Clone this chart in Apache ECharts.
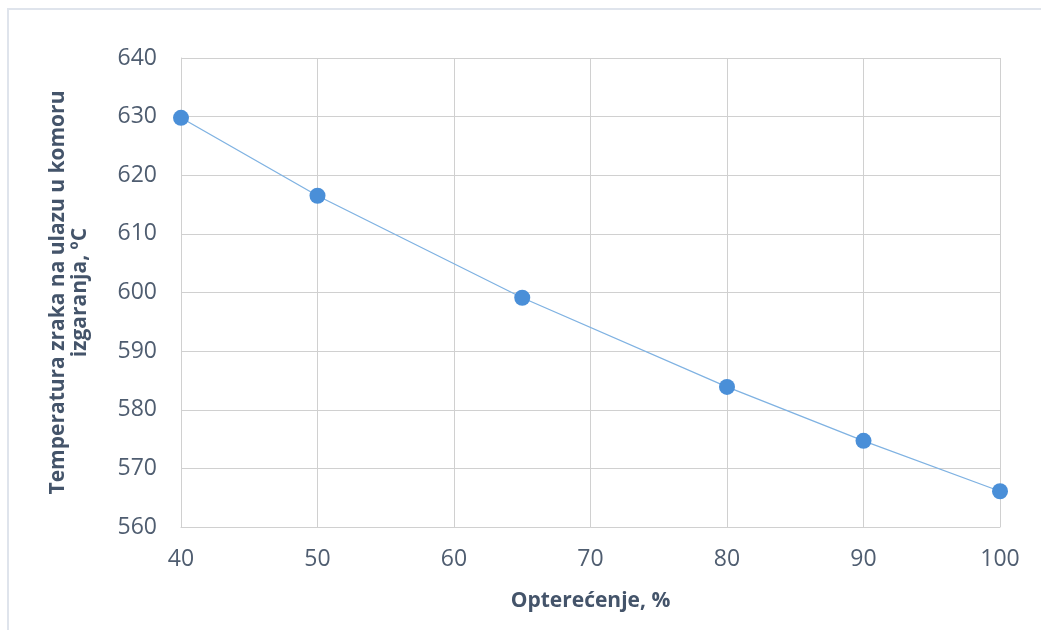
<!DOCTYPE html>
<html><head><meta charset="utf-8">
<script src="https://cdn.jsdelivr.net/npm/echarts@6/dist/echarts.min.js"></script>
<style>
html,body{margin:0;padding:0;background:#fff;}
#frame{position:absolute;left:7px;top:8px;width:1034px;height:622px;border-top:2px solid #dfe4ec;border-left:2px solid #dfe4ec;box-sizing:border-box;}
#chart{position:absolute;left:0;top:0;width:1041px;height:630px;}
</style></head>
<body>
<div id="frame"></div>
<div id="chart"></div>
<script>
const loads = [40, 50, 65, 80, 90, 100];
const temps = [629.8, 616.5, 599.1, 583.9, 574.7, 566.1];
const xTicks = [40, 50, 60, 70, 80, 90, 100];
const yTicks = [560, 570, 580, 590, 600, 610, 620, 630, 640];
const xTitle = 'Opterećenje, %';
const yTitle = 'Temperatura zraka na ulazu u komoru\nizgaranja, ºC';

const chart = echarts.init(document.getElementById('chart'), null, {renderer: 'canvas'});
const font = '"Open Sans", "Noto Sans", sans-serif';
chart.setOption({
  animation: false,
  backgroundColor: 'transparent',
  grid: {left: 181, right: 41, top: 58, bottom: 103, containLabel: false},
  xAxis: {
    type: 'value', min: xTicks[0], max: xTicks[xTicks.length-1], interval: 10,
    name: xTitle, nameLocation: 'middle', nameGap: 64,
    nameTextStyle: {fontFamily: font, fontSize: 21, fontWeight: 'bold', color: '#44546a'},
    axisLine: {show: true, lineStyle: {color: '#d0d0d0', width: 1}},
    axisTick: {show: false},
    axisLabel: {fontFamily: font, fontSize: 23, color: '#4f5d70', margin: 21},
    splitLine: {show: true, lineStyle: {color: '#d0d0d0', width: 1}}
  },
  yAxis: {
    type: 'value', min: yTicks[0], max: yTicks[yTicks.length-1], interval: 10,
    name: yTitle, nameLocation: 'middle', nameGap: 90, nameRotate: 90,
    nameTextStyle: {fontFamily: font, fontSize: 21, fontWeight: 'bold', color: '#44546a', lineHeight: 22, align: 'center'},
    axisLine: {show: true, lineStyle: {color: '#d0d0d0', width: 1}},
    axisTick: {show: false},
    axisLabel: {fontFamily: font, fontSize: 23, color: '#4f5d70', margin: 24},
    splitLine: {show: true, lineStyle: {color: '#d0d0d0', width: 1}}
  },
  series: [{
    type: 'line',
    data: loads.map((x, i) => [x, temps[i]]),
    symbol: 'circle', symbolSize: 16,
    lineStyle: {color: '#7fb2e2', width: 1.3},
    itemStyle: {color: '#4a8fd8', borderColor: '#4a8fd8', borderWidth: 0},
    clip: false
  }]
});
</script>
</body></html>
